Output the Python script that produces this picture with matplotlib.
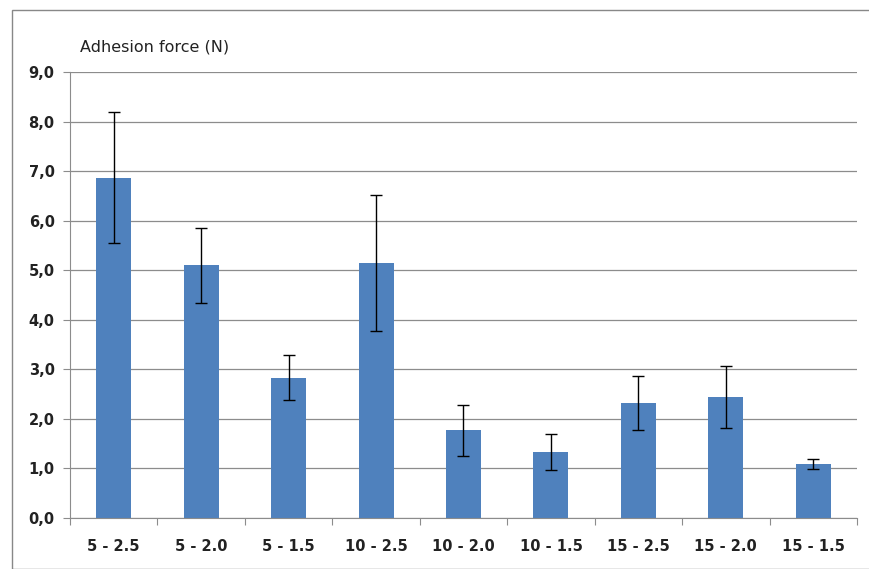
import matplotlib
matplotlib.use("Agg")
import matplotlib.pyplot as plt
from matplotlib.patches import Rectangle
from matplotlib.ticker import FuncFormatter

categories = ["5 - 2.5", "5 - 2.0", "5 - 1.5", "10 - 2.5", "10 - 2.0",
              "10 - 1.5", "15 - 2.5", "15 - 2.0", "15 - 1.5"]
means = [6.87, 5.10, 2.83, 5.14, 1.77, 1.33, 2.32, 2.44, 1.09]
errors = [1.32, 0.76, 0.45, 1.37, 0.52, 0.36, 0.55, 0.63, 0.10]

W, H = 870, 569
fig = plt.figure(figsize=(W / 100, H / 100), dpi=100)
fig.patches.append(Rectangle((12 / W, 0), 1 - 12 / W + 0.01, 1 - 10 / H,
                             transform=fig.transFigure, fill=False,
                             edgecolor="#888888", linewidth=1.0))
ax = fig.add_axes([70 / W, 1 - 518 / H, (857 - 70) / W, (518 - 72) / H])

x = list(range(len(categories)))
ax.bar(x, means, width=0.4, color="#4F81BD", zorder=2)
ax.errorbar(x, means, yerr=errors, fmt="none", ecolor="black",
            elinewidth=1.0, capsize=4, capthick=1.0, zorder=3)

ax.set_xlim(-0.5, len(categories) - 0.5)
ax.set_ylim(0, 9)
ax.set_yticks(range(0, 10))
ax.yaxis.set_major_formatter(FuncFormatter(lambda v, p: f"{v:.1f}".replace(".", ",")))
ax.grid(axis="y", color="#8c8c8c", linewidth=0.9, zorder=0)
ax.set_axisbelow(True)

for s in ["top", "right"]:
    ax.spines[s].set_visible(False)
ax.spines["left"].set_color("#8c8c8c")
ax.spines["bottom"].set_color("#8c8c8c")

ax.set_xticks([i + 0.5 for i in range(-1, len(categories))], minor=False)
ax.set_xticklabels([])
ax.tick_params(axis="x", which="major", length=5, color="#8c8c8c", direction="out")
ax.set_xticks(x, minor=True)
ax.set_xticklabels(categories, minor=True, fontsize=10.5, fontweight="bold",
                   color="#222222")
ax.tick_params(axis="x", which="minor", length=0, pad=15)
ax.tick_params(axis="y", length=5, color="#8c8c8c", labelsize=10.5, pad=6)
for lbl in ax.get_yticklabels():
    lbl.set_fontweight("bold")
    lbl.set_color("#222222")

fig.text(80 / W, 1 - 47 / H, "Adhesion force (N)", fontsize=11.5,
         color="#222222", va="center", ha="left")

fig.savefig("out.png", dpi=100)
